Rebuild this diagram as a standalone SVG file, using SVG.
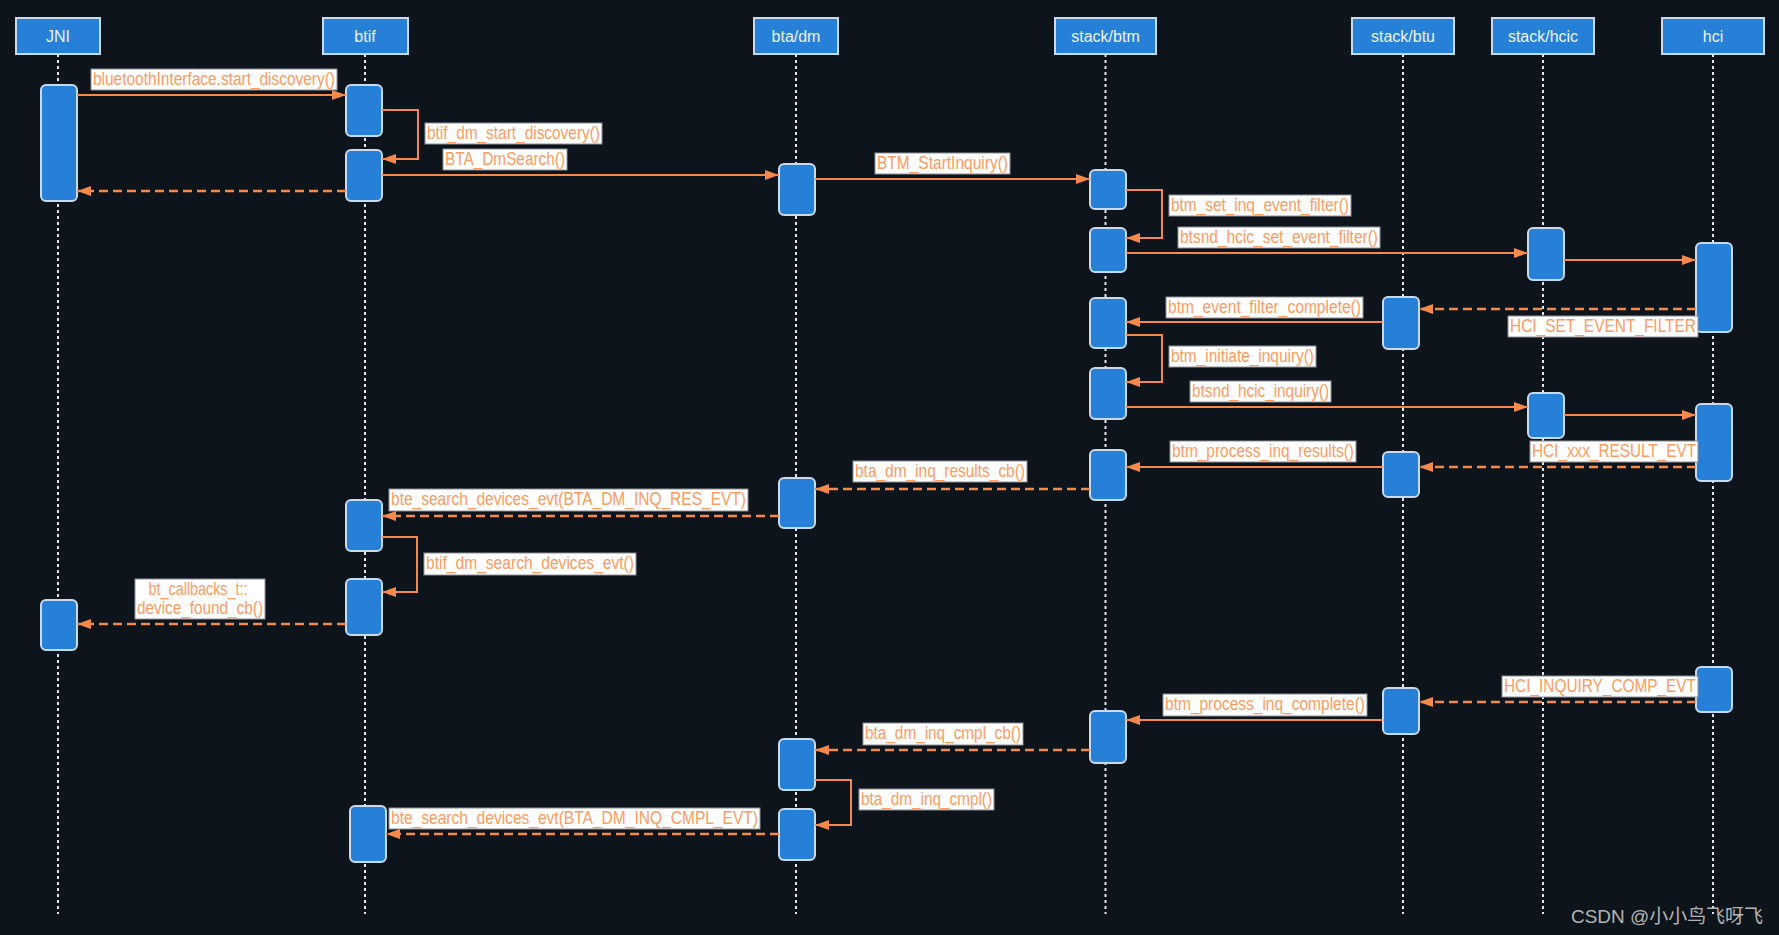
<svg xmlns="http://www.w3.org/2000/svg" width="1779" height="935" viewBox="0 0 1779 935">
<style>
.bg{fill:#0e141b}
.hdr{fill:#2680d8;stroke:#c9d9ee;stroke-width:2}
.hdrt{font-family:"Liberation Sans",Arial,sans-serif;font-size:16px;fill:#eef4ff;text-anchor:middle}
.life{stroke:#dfe6ee;stroke-width:2;stroke-dasharray:3 3;fill:none}
.act{fill:#2680d8;stroke:#c9d9ee;stroke-width:2}
.msg{stroke:#f4894a;stroke-width:2;fill:none;marker-end:url(#ah)}
.ret{stroke:#f4894a;stroke-width:2.5;fill:none;stroke-dasharray:9 5;marker-end:url(#ah)}
.lb{fill:#ffffff;stroke:#8a8f96;stroke-width:1}
.lt{font-family:"Liberation Sans Narrow","Liberation Sans",Arial,sans-serif;font-size:18px;fill:#ff9b5e;text-anchor:middle}
.wm{font-family:"Liberation Sans","Noto Sans CJK SC",sans-serif;font-size:19px;fill:#b4b4b4}
</style>
<defs>
<marker id="ah" markerUnits="userSpaceOnUse" markerWidth="15" markerHeight="11" refX="14" refY="5" orient="auto">
<path d="M0,0 L14,5 L0,10 z" fill="#f4894a"/>
</marker>
</defs>
<rect class="bg" x="0" y="0" width="1779" height="935"/>

<g id="node-JNI">
<line class="life" x1="58" y1="54" x2="58" y2="914"/>
<rect class="hdr" x="16" y="18" width="84" height="36"/>
<text class="hdrt" x="58" y="41.5">JNI</text>
<rect class="act" x="41" y="85" width="36" height="116" rx="5"/>
<rect class="act" x="41" y="600" width="36" height="50" rx="5"/>
</g>

<g id="node-btif">
<line class="life" x1="365" y1="54" x2="365" y2="914"/>
<rect class="hdr" x="323" y="18" width="85" height="36"/>
<text class="hdrt" x="365" y="41.5">btif</text>
<rect class="act" x="346" y="85" width="36" height="51" rx="5"/>
<rect class="act" x="346" y="150" width="36" height="51" rx="5"/>
<rect class="act" x="346" y="500" width="36" height="51" rx="5"/>
<rect class="act" x="346" y="579" width="36" height="56" rx="5"/>
<rect class="act" x="350" y="806" width="36" height="56" rx="5"/>
</g>

<g id="node-bta-dm">
<line class="life" x1="796" y1="54" x2="796" y2="914"/>
<rect class="hdr" x="754" y="18" width="84" height="36"/>
<text class="hdrt" x="796" y="41.5">bta/dm</text>
<rect class="act" x="779" y="164" width="36" height="51" rx="5"/>
<rect class="act" x="779" y="478" width="36" height="50" rx="5"/>
<rect class="act" x="779" y="739" width="36" height="51" rx="5"/>
<rect class="act" x="779" y="809" width="36" height="51" rx="5"/>
</g>

<g id="node-stack-btm">
<line class="life" x1="1105.5" y1="54" x2="1105.5" y2="914"/>
<rect class="hdr" x="1055" y="18" width="101" height="36"/>
<text class="hdrt" x="1105.5" y="41.5">stack/btm</text>
<rect class="act" x="1090" y="170" width="36" height="39" rx="5"/>
<rect class="act" x="1090" y="228" width="36" height="44" rx="5"/>
<rect class="act" x="1090" y="298" width="36" height="50" rx="5"/>
<rect class="act" x="1090" y="368" width="36" height="51" rx="5"/>
<rect class="act" x="1090" y="450" width="36" height="50" rx="5"/>
<rect class="act" x="1090" y="711" width="36" height="52" rx="5"/>
</g>

<g id="node-stack-btu">
<line class="life" x1="1403" y1="54" x2="1403" y2="914"/>
<rect class="hdr" x="1352" y="18" width="102" height="36"/>
<text class="hdrt" x="1403" y="41.5">stack/btu</text>
<rect class="act" x="1383" y="297" width="36" height="52" rx="5"/>
<rect class="act" x="1383" y="452" width="36" height="45" rx="5"/>
<rect class="act" x="1383" y="688" width="36" height="46" rx="5"/>
</g>

<g id="node-stack-hcic">
<line class="life" x1="1543" y1="54" x2="1543" y2="914"/>
<rect class="hdr" x="1492" y="18" width="102" height="36"/>
<text class="hdrt" x="1543" y="41.5">stack/hcic</text>
<rect class="act" x="1528" y="228" width="36" height="52" rx="5"/>
<rect class="act" x="1528" y="393" width="36" height="45" rx="5"/>
</g>

<g id="node-hci">
<line class="life" x1="1713" y1="54" x2="1713" y2="914"/>
<rect class="hdr" x="1662" y="18" width="102" height="36"/>
<text class="hdrt" x="1713" y="41.5">hci</text>
<rect class="act" x="1696" y="243" width="36" height="89" rx="5"/>
<rect class="act" x="1696" y="404" width="36" height="77" rx="5"/>
<rect class="act" x="1696" y="667" width="36" height="45" rx="5"/>
</g>

<g id="connectors">
<path class="msg" d="M77,95 H346"/>
<path class="msg" d="M382,110 H418 V159 H382"/>
<path class="msg" d="M382,175 H779"/>
<path class="ret" d="M346,191 H77"/>
<path class="msg" d="M815,179 H1090"/>
<path class="msg" d="M1126,190 H1162 V238 H1126"/>
<path class="msg" d="M1126,253 H1528"/>
<path class="msg" d="M1564,260 H1696"/>
<path class="ret" d="M1696,309 H1419"/>
<path class="msg" d="M1383,322 H1126"/>
<path class="msg" d="M1126,335 H1162 V382 H1126"/>
<path class="msg" d="M1126,407 H1528"/>
<path class="msg" d="M1564,415 H1696"/>
<path class="ret" d="M1696,467 H1419"/>
<path class="msg" d="M1383,467 H1126"/>
<path class="ret" d="M1090,489 H815"/>
<path class="ret" d="M779,516 H382"/>
<path class="msg" d="M382,537 H417 V592 H382"/>
<path class="ret" d="M346,624 H77"/>
<path class="ret" d="M1696,702 H1419"/>
<path class="msg" d="M1383,720 H1126"/>
<path class="ret" d="M1090,750 H815"/>
<path class="msg" d="M815,780 H851 V825 H815"/>
<path class="ret" d="M779,834 H386"/>

<rect class="lb" x="91" y="69" width="246" height="21"/>
<text class="lt" x="214" y="85" textLength="242" lengthAdjust="spacingAndGlyphs">bluetoothInterface.start_discovery()</text>
<rect class="lb" x="425" y="123" width="177" height="21"/>
<text class="lt" x="513.5" y="139" textLength="173" lengthAdjust="spacingAndGlyphs">btif_dm_start_discovery()</text>
<rect class="lb" x="443" y="149" width="124" height="21"/>
<text class="lt" x="505" y="165" textLength="120" lengthAdjust="spacingAndGlyphs">BTA_DmSearch()</text>
<rect class="lb" x="875" y="153" width="135" height="21"/>
<text class="lt" x="942.5" y="169" textLength="131" lengthAdjust="spacingAndGlyphs">BTM_StartInquiry()</text>
<rect class="lb" x="1169" y="195" width="182" height="21"/>
<text class="lt" x="1260" y="211" textLength="178" lengthAdjust="spacingAndGlyphs">btm_set_inq_event_filter()</text>
<rect class="lb" x="1178" y="227" width="202" height="21"/>
<text class="lt" x="1279" y="243" textLength="198" lengthAdjust="spacingAndGlyphs">btsnd_hcic_set_event_filter()</text>
<rect class="lb" x="1166" y="297" width="197" height="21"/>
<text class="lt" x="1264.5" y="313" textLength="193" lengthAdjust="spacingAndGlyphs">btm_event_filter_complete()</text>
<rect class="lb" x="1508" y="316" width="190" height="21"/>
<text class="lt" x="1603" y="332" textLength="186" lengthAdjust="spacingAndGlyphs">HCI_SET_EVENT_FILTER</text>
<rect class="lb" x="1169" y="346" width="147" height="21"/>
<text class="lt" x="1242.5" y="362" textLength="143" lengthAdjust="spacingAndGlyphs">btm_initiate_inquiry()</text>
<rect class="lb" x="1190" y="381" width="141" height="21"/>
<text class="lt" x="1260.5" y="397" textLength="137" lengthAdjust="spacingAndGlyphs">btsnd_hcic_inquiry()</text>
<rect class="lb" x="1170" y="441" width="186" height="21"/>
<text class="lt" x="1263" y="457" textLength="182" lengthAdjust="spacingAndGlyphs">btm_process_inq_results()</text>
<rect class="lb" x="1530" y="441" width="168" height="21"/>
<text class="lt" x="1614" y="457" textLength="164" lengthAdjust="spacingAndGlyphs">HCI_xxx_RESULT_EVT</text>
<rect class="lb" x="853" y="461" width="174" height="21"/>
<text class="lt" x="940" y="477" textLength="170" lengthAdjust="spacingAndGlyphs">bta_dm_inq_results_cb()</text>
<rect class="lb" x="389" y="489" width="359" height="22"/>
<text class="lt" x="568.5" y="505" textLength="355" lengthAdjust="spacingAndGlyphs">bte_search_devices_evt(BTA_DM_INQ_RES_EVT)</text>
<rect class="lb" x="424" y="553" width="212" height="22"/>
<text class="lt" x="530" y="569" textLength="208" lengthAdjust="spacingAndGlyphs">btif_dm_search_devices_evt()</text>
<rect class="lb" x="135" y="579" width="130" height="40"/>
<text class="lt" x="198" y="595" textLength="99" lengthAdjust="spacingAndGlyphs">bt_callbacks_t::</text>
<text class="lt" x="200" y="614" textLength="126" lengthAdjust="spacingAndGlyphs">device_found_cb()</text>
<rect class="lb" x="1502" y="676" width="196" height="21"/>
<text class="lt" x="1600" y="692" textLength="192" lengthAdjust="spacingAndGlyphs">HCI_INQUIRY_COMP_EVT</text>
<rect class="lb" x="1163" y="694" width="204" height="22"/>
<text class="lt" x="1265" y="710" textLength="200" lengthAdjust="spacingAndGlyphs">btm_process_inq_complete()</text>
<rect class="lb" x="863" y="723" width="160" height="22"/>
<text class="lt" x="943" y="739" textLength="156" lengthAdjust="spacingAndGlyphs">bta_dm_inq_cmpl_cb()</text>
<rect class="lb" x="859" y="789" width="135" height="21"/>
<text class="lt" x="926.5" y="805" textLength="131" lengthAdjust="spacingAndGlyphs">bta_dm_inq_cmpl()</text>
<rect class="lb" x="389" y="808" width="371" height="21"/>
<text class="lt" x="574.5" y="824" textLength="367" lengthAdjust="spacingAndGlyphs">bte_search_devices_evt(BTA_DM_INQ_CMPL_EVT)</text>
</g>

<text class="wm" x="1571" y="923" textLength="192" lengthAdjust="spacingAndGlyphs">CSDN @小小鸟飞呀飞</text>
</svg>
